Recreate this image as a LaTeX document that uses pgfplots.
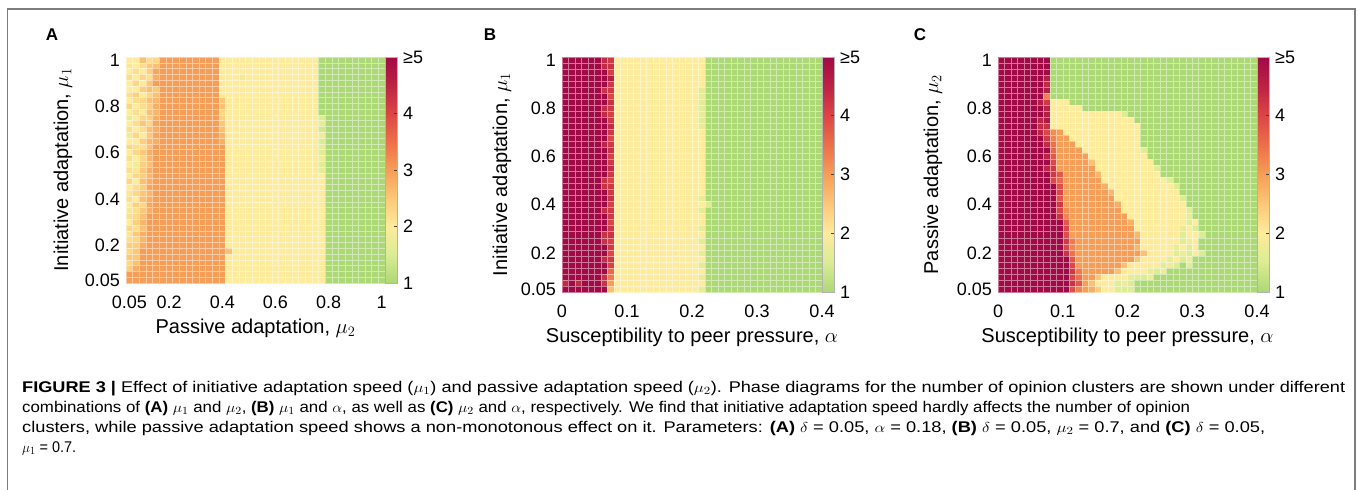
\documentclass[border=0pt]{standalone}
\usepackage{fontspec}
\setmainfont{Liberation Sans}
\usepackage{graphicx}
\usepackage{pgfplots}
\pgfplotsset{compat=1.18}
\usepackage{pgfplotstable}

\newcommand\fsz[1]{\fontsize{#1}{#1}\selectfont}
\definecolor{framec}{RGB}{125,125,125}

\pgfplotsset{colormap={clus}{rgb255=(172,216,118) rgb255=(218,236,148) rgb255=(254,235,156) rgb255=(252,200,120) rgb255=(246,158,88) rgb255=(236,112,74) rgb255=(220,70,70) rgb255=(188,35,68) rgb255=(160,10,70)}}

\pgfdeclareplotmark{cellA}{\pgfpathrectangle{\pgfpoint{-3.3205pt}{-2.8975pt}}{\pgfpoint{6.641pt}{5.795pt}}\pgfusepathqfillstroke}
\pgfdeclareplotmark{cellB}{\pgfpathrectangle{\pgfpoint{-3.25pt}{-3.013pt}}{\pgfpoint{6.5pt}{6.026pt}}\pgfusepathqfillstroke}
\pgfdeclareplotmark{cellC}{\pgfpathrectangle{\pgfpoint{-3.2375pt}{-3.013pt}}{\pgfpoint{6.475pt}{6.026pt}}\pgfusepathqfillstroke}

\pgfplotsset{
  hm/.style={
    scale only axis, enlargelimits=false,
    axis line style={draw=none}, tick style={draw=none},
    colormap name=clus, point meta min=1, point meta max=5,
    ymin=0.0375, ymax=1.0125,
    ytick={0.05,0.2,0.4,0.6,0.8,1}, yticklabels={0.05,0.2,0.4,0.6,0.8,1},
    xticklabel style={font=\fsz{18}, inner sep=0pt, yshift=-12.5pt},
    yticklabel style={font=\fsz{18}, inner sep=0pt, xshift=-6pt},
    label style={font=\fsz{20}},
    colorbar,
    colorbar style={
      at={(1,1)}, anchor=north west, xshift=19pt,
      scale only axis, width=12pt,
      axis line style={draw=black!30, line width=0.5pt},
      ytick={1,2,3,4,5}, yticklabels={1,2,3,4,≥5},
      yticklabel pos=right, ytick pos=right,
      tick align=inside, major tick length=3pt,
      tick style={draw=black!75, line width=0.5pt},
      yticklabel style={font=\fsz{18}, inner sep=0pt, xshift=6pt},
    },
  },
  cellplot/.style={scatter, only marks, point meta=explicit,
    scatter/use mapped color={draw=mapped color!55!white, fill=mapped color},
    mark options={line width=0.5pt}},
}

\newsavebox\capbox
\newcommand\capline[2]{\sbox\capbox{#2}\pgfmathsetmacro\capr{#1/\the\wd\capbox}\scalebox{\capr}[1]{\usebox\capbox}}

% Panel A: rows mu1 = 1 (top) ... 0.05 (bottom); columns mu2 = 0.05 ... 1
\pgfplotstableread[header=false]{
2 2 2.6 2.2 2.3 3 3 3 3 3  3 3 3 3 2 2 2 2 2 2  2 2 2 2 2 2 2 2 2 1  1 1 1 1 1 1 1 1 1
2.1 2 2.2 2.5 2.6 3 3 3 3 3  3 3 3 3 2 2 2 2 2 2  2 2 2 2 2 2 2 2 2 1  1 1 1 1 1 1 1 1 1
2 2.2 2 2.4 2.9 3 3 3 3 3  3 3 3 3 2 2 2 2 2 2  2 2 2 2 2 2 2 2 2 1  1 1 1 1 1 1 1 1 1
2.2 2 2.3 2.2 2.8 3 3 3 3 3  3 3 3 3 2 2 2 1.8 2 2  2 2 2 2 2 2 2 2 2 1  1 1 1 1 1 1 1 1 1
2 2.3 2 2.5 3 3 3 3 3 3  3 3 3 3 2 2 2 2 2 2  2 2 2 2 2 2 2 2 2 1  1 1 1 1 1 1 1 1 1
2 2 2.4 2.6 2.5 3 3 3 3 3  3 3 3 3 2 2 2 2 2 2  2 2 2 2 2 2 2 2 2 1  1 1 1 1 1 1 1 1 1
2.2 2.4 2 2.3 2.6 3 3 3 3 3  3 3 3 3 2 2 2 2 2 2  2 2 2 2 2 2 2 2 2 1  1 1 1 1 1 1 1 1 1
2 2.2 2.3 2.6 2.7 3 3 3 3 3  3 3 3 3 2.5 2 2 2 2 2  2 2 2 2 2 2 2 2 2 1  1 1 1 1 1 1 1 1 1
2.3 2 2.2 2.4 2.8 3 3 3 3 3  3 3 3 3 2.6 2 2 2 2 2  2 2 2 2 2 2 2 2 2 1  1 1 1 1 1 1 1 1 1
2 2.2 2 2.6 2.7 3 3 3 3 3  3 3 3 3 2.3 2 2 2 2 2  2 2 2 2 2 2 2 2 2 1  1 1 1 1 1 1 1 1 1
1.7 2 2.3 2.4 2.8 3 3 3 3 3  3 3 3 3 2.4 2 2 2 2 2  2 2 2 2 2 2 2 2 2 1.5  1 1 1 1 1 1 1 1 1
2 2.2 2.5 2.3 2.9 3 3 3 3 3  3 3 3 3 2.5 2 2 2 2 2  2 2 2 2 2 2 2 2 2 1.7  1 1 1 1 1 1 1 1 1
2.2 2 2.2 2.6 2.8 3 3 3 3 3  3 3 3 3 2.6 2 2 2 2 2  2 2 2 2 2 2 2 2 2 1.4  1 1 1 1 1 1 1 1 1
1.8 2.3 2 2.5 2.9 3 3 3 3 3  3 3 3 3 2.7 2 2 2 2 2  2 2 2 2 2 2 2 2 2 1.8  1 1 1 1 1 1 1 1 1
2 2 2.4 2.7 2.8 3 3 3 3 3  3 3 3 3 2.8 2 2 2 2 2  2 2 2 2 2 2 2 2 2 1.5  1 1 1 1 1 1 1 1 1
2.3 2.2 2.2 2.6 3 3 3 3 3 3  3 3 3 3 3 2 2 2 2 2  2 2 2 2 2 2 2 2 2 1.7  1 1 1 1 1 1 1 1 1
2 2.3 2.5 2.8 3 3 3 3 3 3  3 3 3 3 3 2 2 2 2 2  2 2 2 2 2 2 2 2 2 1.6  1 1 1 1 1 1 1 1 1
2.2 2 2.3 2.7 3 3 3 3 3 3  3 3 3 3 3 2 2 2 2 2  2 2 2 2 2 2 2 2 2 1.8  1 1 1 1 1 1 1 1 1
2 1.8 2.4 2.6 3 3 3 3 3 3  3 3 3 3 3 2 2 2 2 2  2 2 2 2 2 2 2 2 2 1.6  1 1 1 1 1 1 1 1 1
2.2 2.1 2.5 2.8 3 3 3 3 3 3  3 3 3 3 3 2 2 2 2 2  2 2 2 2 2 2 2 2 2 1.7  1 1 1 1 1 1 1 1 1
2 2.3 2.4 2.7 3 3 3 3 3 3  3 3 3 3 3 2 2 2 2 2  2 2 2 2 2 2 2 2 2 2  1 1 1 1 1 1 1 1 1
2.3 2 2.6 2.8 3 3 3 3 3 3  3 3 3 3 3 2 2 2 2 2  2 2 2 2 2 2 2 2 2 2  1 1 1 1 1 1 1 1 1
2 2.2 2.4 2.9 3 3 3 3 3 3  3 3 3 3 3 2 2 2 2 2  2 2 2 2 2 2 2 2 2 2  1 1 1 1 1 1 1 1 1
2.1 2.3 2.5 2.7 3 3 3 3 3 3  3 3 3 3 3 2 2 2 2 2  2 2 2 2 2 2 2 2 2 2  1 1 1 1 1 1 1 1 1
2.2 2 2.6 2.8 3 3 3 3 3 3  3 3 3 3 3 2 2 2 2 2  2 2 2 2 2 2 2 2 2 2  1 1 1 1 1 1 1 1 1
2 2.4 2.3 2.9 3 3 3 3 3 3  3 3 3 3 3 2 2 2 2 2  2 2 2 2 2 2 2 2 2 2  1 1 1 1 1 1 1 1 1
1.8 2.2 2.5 2.8 3 3 3 3 3 3  3 3 3 3 3 2 2 2 2 2  2 2 2 2 2 2 2 2 2 2  1 1 1 1 1 1 1 1 1
2.2 2.3 2.6 3 3 3 3 3 3 3  3 3 3 3 3 2 2 2 2 2  2 2 2 2 2 2 2 2 2 2  1 1 1 1 1 1 1 1 1
2 2.4 2.7 3 3 3 3 3 3 3  3 3 3 3 3 2 2 2 2 2  2 2 2 2 2 2 2 2 2 2  1 1 1 1 1 1 1 1 1
2.3 2.2 2.6 3 3 3 3 3 3 3  3 3 3 3 3 2 2 2 2 2  2 2 2 2 2 2 2 2 2 2  1 1 1 1 1 1 1 1 1
2.1 2.5 2.8 3 3 3 3 3 3 3  3 3 3 3 3 2 2 2 2 2  2 2 2 2 2 2 2 2 2 2  1 1 1 1 1 1 1 1 1
2.2 2.3 2.7 3 3 3 3 3 3 3  3 3 3 3 3 2 2 2 2 2  2 2 2 2 2 2 2 2 2 2  1 1 1 1 1 1 1 1 1
2.4 2.4 2.8 3 3 3 3 3 3 3  3 3 3 3 3 2 2 2 2 2  2 2 2 2 2 2 2 2 2 2  1 1 1 1 1 1 1 1 1
2.3 2.5 3 3 3 3 3 3 3 3  3 3 3 3 3 2.6 2 2 2 2  2 2 2 2 2 2 2 2 2 2  1 1 1 1 1 1 1 1 1
2.5 2.5 3 3 3 3 3 3 3 3  3 3 3 3 3 2 2 2 2 2  2 2 2 2 2 2 2 2 2 2  1 1 1 1 1 1 1 1 1
2.3 2.6 3 3 3 3 3 3 3 3  3 3 3 3 3 2 2 2 2 2  2 2 2 2 2 2 2 2 2 2  1 1 1 1 1 1 1 1 1
2.4 2.8 3 3 3 3 3 3 3 3  3 3 3 3 3 2 2 2 2 2  2 2 2 2 2 2 2 2 2 2  1 1 1 1 1 1 1 1 1
3 3 3 3 3 3 3 3 3 3  3 3 3 3 3 2 2 2 2 2  2 2 2 2 2 2 2 2 2 2  1 1 1 1 1 1 1 1 1
3 3 3 3 3 3 3 3 3 3  3 3 3 3 3 2 2 2 2 2  2 2 2 2 2 2 2 2 2 2  1 1 1 1 1 1 1 1 1
}\tabA

% Panel B: rows mu1 = 1 ... 0.05; columns alpha = 0.005 ... 0.395
\pgfplotstableread[header=false]{
5 5 5 5 5 5 4.4 4.2 2 2  2 2 2 2 2 2 2 2 2 2  2 2 1 1 1 1 1 1 1 1  1 1 1 1 1 1 1 1 1 1
5 5 5 5 5 5 4.4 4.3 2 2  2 2 2 2 2 2 2 2 2 2  2 2 1 1 1 1 1 1 1 1  1 1 1 1 1 1 1 1 1 1
5 5 5 5 5 5 5 4.1 2 2  2 2 2 2 2 2 2 2 2 2  2 2 1 1 1 1 1 1 1 1  1 1 1 1 1 1 1 1 1 1
5 5 5 5 5 5 5 4.6 2 2  2 2 2 2 2 2 2 2 2 2  2 2 1 1 1 1 1 1 1 1  1 1 1 1 1 1 1 1 1 1
5 5 5 5 5 5 5 4.2 2 2  2 2 2 2 2 2 2 2 2 2  2 2 1 1 1 1 1 1 1 1  1 1 1 1 1 1 1 1 1 1
5 5 5 5 5 5 4.3 4.2 2 2  2 2 2 2 2 2 2 2 2 2  2 1.6 1 1 1 1 1 1 1 1  1 1 1 1 1 1 1 1 1 1
5 5 5 5 5 5 5 4.0 2 2  2 2 2 2 2 2 2 2 2 2  2 1.7 1 1 1 1 1 1 1 1  1 1 1 1 1 1 1 1 1 1
5 5 5 5 5 5 5 4.3 2 2  2 2 2 2 2 2 2 2 2 2  2 1.6 1 1 1 1 1 1 1 1  1 1 1 1 1 1 1 1 1 1
5 5 5 5 5 5 4.4 4.2 2 2  2 2 2 2 2 2 2 2 2 2  2 1.6 1 1 1 1 1 1 1 1  1 1 1 1 1 1 1 1 1 1
5 5 5 5 5 5 4.4 4.1 2 2  2 2 2 2 2 2 2 2 2 2  2 1.7 1 1 1 1 1 1 1 1  1 1 1 1 1 1 1 1 1 1
5 5 5 5 5 5 5 4.2 2 2  2 2 2 2 2 2 2 2 2 2  2 1.6 1 1 1 1 1 1 1 1  1 1 1 1 1 1 1 1 1 1
5 5 5 5 5 5 5 4.4 2 2  2 2 2 2 2 2 2 2 2 2  2 1.7 1 1 1 1 1 1 1 1  1 1 1 1 1 1 1 1 1 1
5 5 5 5 5 5 5 4.2 2 2  2 2 2 2 2 2 2 2 2 2  2 2 1 1 1 1 1 1 1 1  1 1 1 1 1 1 1 1 1 1
5 5 5 5 5 5 5 4.0 2 2  2 2 2 2 2 2 2 2 2 2  2 2 1 1 1 1 1 1 1 1  1 1 1 1 1 1 1 1 1 1
5 5 5 5 5 5 4.5 4.2 2 2  2 2 2 2 2 2 2 2 2 2  2 2 1 1 1 1 1 1 1 1  1 1 1 1 1 1 1 1 1 1
5 5 5 5 5 5 5 4.3 2 2  2 2 2 2 2 2 2 2 2 2  2 2 1 1 1 1 1 1 1 1  1 1 1 1 1 1 1 1 1 1
5 5 5 5 5 5 5 4.1 2 2  2 2 2 2 2 2 2 2 2 2  2 2 1 1 1 1 1 1 1 1  1 1 1 1 1 1 1 1 1 1
5 5 5 5 5 5 5 4.2 2 2  2 2 2 2 2 2 2 2 2 2  2 2 1 1 1 1 1 1 1 1  1 1 1 1 1 1 1 1 1 1
5 5 5 5 5 5 5 4.4 2 2  2 2 2 2 2 2 2 2 2 2  2 2 1 1 1 1 1 1 1 1  1 1 1 1 1 1 1 1 1 1
5 5 5 5 5 5 5 4.2 2 2  2 2 2 2 2 2 2 2 2 2  2 2 1 1 1 1 1 1 1 1  1 1 1 1 1 1 1 1 1 1
5 5 5 5 5 5 4.3 4.0 2 2  2 2 2 2 2 2 2 2 2 2  2 2 1 1 1 1 1 1 1 1  1 1 1 1 1 1 1 1 1 1
5 5 5 5 5 5 4.3 4.2 2 2  2 2 2 2 2 2 2 2 2 2  2 2 1 1 1 1 1 1 1 1  1 1 1 1 1 1 1 1 1 1
5 5 5 5 5 5 5 4.2 2 2  2 2 2 2 2 2 2 2 2 2  2 2 1 1 1 1 1 1 1 1  1 1 1 1 1 1 1 1 1 1
5 5 5 5 5 5 5 4.3 2 2  2 2 2 2 2 2 2 2 2 2  2 1.7 1 1 1 1 1 1 1 1  1 1 1 1 1 1 1 1 1 1
5 5 5 5 5 5 5 4.1 2 2  2 2 2 2 2 2 2 2 2 2  2 2 1.5 1 1 1 1 1 1 1  1 1 1 1 1 1 1 1 1 1
5 5 5 5 5 5 4.4 4.2 2 2  2 2 2 2 2 2 2 2 2 2  2 1.7 1 1 1 1 1 1 1 1  1 1 1 1 1 1 1 1 1 1
5 5 5 5 5 5 5 4.2 2 2  2 2 2 2 2 2 2 2 2 2  2 2 1 1 1 1 1 1 1 1  1 1 1 1 1 1 1 1 1 1
5 5 5 5 5 5 5 4.0 2 2  2 2 2 2 2 2 2 2 2 2  2 2 1 1 1 1 1 1 1 1  1 1 1 1 1 1 1 1 1 1
5 5 5 5 5 5 5 4.2 2 2  2 2 2 2 2 2 2 2 2 2  2 1.7 1 1 1 1 1 1 1 1  1 1 1 1 1 1 1 1 1 1
5 5 5 5 5 5 4.3 4.3 2 2  2 2 2 2 2 2 2 2 2 2  2 2 1 1 1 1 1 1 1 1  1 1 1 1 1 1 1 1 1 1
5 5 5 5 5 5 4.3 4.1 2 2  2 2 2 2 2 2 2 2 2 2  2 1.6 1 1 1 1 1 1 1 1  1 1 1 1 1 1 1 1 1 1
5 5 5 5 5 5 5 4.2 2 2  2 2 2 2 2 2 2 2 2 2  2 2 1 1 1 1 1 1 1 1  1 1 1 1 1 1 1 1 1 1
5 5 5 5 5 5 5 4.0 2 2  2 2 2 2 2 2 2 2 2 2  2 1.7 1 1 1 1 1 1 1 1  1 1 1 1 1 1 1 1 1 1
5 5 5 5 5 5 4.4 4.2 2 2  2 2 2 2 2 2 2 2 2 2  2 2 1 1 1 1 1 1 1 1  1 1 1 1 1 1 1 1 1 1
5 5 5 5 5 5 5 4.1 2 2  2 2 2 2 2 2 2 2 2 2  2 1.6 1 1 1 1 1 1 1 1  1 1 1 1 1 1 1 1 1 1
5 5 5 5 5 5 5 3.6 2 2  2 2 2 2 2 2 2 2 2 2  2 2 1 1 1 1 1 1 1 1  1 1 1 1 1 1 1 1 1 1
5 5 5 5 5 5 4.3 3.4 2 2  2 2 2 2 2 2 2 2 2 2  2 1.7 1 1 1 1 1 1 1 1  1 1 1 1 1 1 1 1 1 1
4.4 5 4.4 5 5 5 4.3 3.0 2 2  2 2 2 2 2 2 2 2 2 2  2 2 1 1 1 1 1 1 1 1  1 1 1 1 1 1 1 1 1 1
5 5 5 5 5 5 5 2.6 2 2  2 2 2 2 2 2 2 2 2 2  2 1.7 1 1 1 1 1 1 1 1  1 1 1 1 1 1 1 1 1 1
}\tabB

% Panel C: rows mu2 = 1 ... 0.05; columns alpha = 0.005 ... 0.395
\pgfplotstableread[header=false]{
5 5 5 5 5 5 5 5 1 1  1 1 1 1 1 1 1 1 1 1  1 1 1 1 1 1 1 1 1 1  1 1 1 1 1 1 1 1 1 1
5 5 5 5 5 5 5 5 1 1  1 1 1 1 1 1 1 1 1 1  1 1 1 1 1 1 1 1 1 1  1 1 1 1 1 1 1 1 1 1
5 5 5 5 5 5 5 5 1 1  1 1 1 1 1 1 1 1 1 1  1 1 1 1 1 1 1 1 1 1  1 1 1 1 1 1 1 1 1 1
5 5 5 5 5 5 5 4.6 1 1  1 1 1 1 1 1 1 1 1 1  1 1 1 1 1 1 1 1 1 1  1 1 1 1 1 1 1 1 1 1
5 5 5 5 5 5 5 4.4 1 1  1 1 1 1 1 1 1 1 1 1  1 1 1 1 1 1 1 1 1 1  1 1 1 1 1 1 1 1 1 1
5 5 5 5 5 5 5 4.6 1 1  1 1 1 1 1 1 1 1 1 1  1 1 1 1 1 1 1 1 1 1  1 1 1 1 1 1 1 1 1 1
5 5 5 5 5 5 5 3.3 1 1  1 1 1 1 1 1 1 1 1 1  1 1 1 1 1 1 1 1 1 1  1 1 1 1 1 1 1 1 1 1
5 5 5 5 5 5 4.6 4.2 2 2  2 1 1 1 1 1 1 1 1 1  1 1 1 1 1 1 1 1 1 1  1 1 1 1 1 1 1 1 1 1
5 5 5 5 5 5 5 4.5 2 2  2 2 2 1 1 1 1 1 1 1  1 1 1 1 1 1 1 1 1 1  1 1 1 1 1 1 1 1 1 1
5 5 5 5 5 5 5 4.6 2 2  2 2 2 2 2 2 2 2 2 1.5  1 1 1 1 1 1 1 1 1 1  1 1 1 1 1 1 1 1 1 1
5 5 5 5 5 5 4.5 4.7 2 2  2 2 2 2 2 2 2 2 2 2  2 1 1 1 1 1 1 1 1 1  1 1 1 1 1 1 1 1 1 1
5 5 5 5 5 5 4.4 4.3 2 2  2 2 2 2 2 2 2 2 2 2  2 2 1 1 1 1 1 1 1 1  1 1 1 1 1 1 1 1 1 1
5 5 5 5 5 5 4.5 4.0 3.2 3.0  2 2 2 2 2 2 2 2 2 2  2 2 1 1 1 1 1 1 1 1  1 1 1 1 1 1 1 1 1 1
5 5 5 5 5 5 5 4.2 3.3 3  3 2 2 2 2 2 2 2 2 2  2 2 1 1 1 1 1 1 1 1  1 1 1 1 1 1 1 1 1 1
5 5 5 5 5 5 5 4.4 3.5 3  3 3 2 2 2 2 2 2 2 2  2 2 1 1 1 1 1 1 1 1  1 1 1 1 1 1 1 1 1 1
5 5 5 5 5 5 5 5 3.6 3  3 3 3 2 2 2 2 2 2 2  2 2 1.6 1 1 1 1 1 1 1  1 1 1 1 1 1 1 1 1 1
5 5 5 5 5 5 5 4.5 3.8 3  3 3 3 3 2 2 2 2 2 2  2 2 2 1 1 1 1 1 1 1  1 1 1 1 1 1 1 1 1 1
5 5 5 5 5 5 5 5 4.0 3  3 3 3 3 2.6 2 2 2 2 2  2 2 2 2 1 1 1 1 1 1  1 1 1 1 1 1 1 1 1 1
5 5 5 5 5 5 5 4.5 4.2 3  3 3 3 3 3 2 2 2 2 2  2 2 2 2 1.6 1 1 1 1 1  1 1 1 1 1 1 1 1 1 1
5 5 5 5 5 5 5 5 4.2 3.8  3 3 3 3 3 2.7 2 2 2 2  2 2 2 2 2 1 1 1 1 1  1 1 1 1 1 1 1 1 1 1
5 5 5 5 5 5 5 5 4.0 3.6  3 3 3 3 3 3 2 2 2 2  2 2 2 2 2 2 1.6 1 1 1  1 1 1 1 1 1 1 1 1 1
5 5 5 5 5 5 5 5 5 3.9  3 3 3 3 3 3 2.8 2 2 2  2 2 2 2 2 2 2 1.5 1 1  1 1 1 1 1 1 1 1 1 1
5 5 5 5 5 5 5 5 5 4.0  3 3 3 3 3 3 3 2.7 2 2  2 2 2 2 2 2 2 2 1 1  1 1 1 1 1 1 1 1 1 1
5 5 5 5 5 5 5 5 5 3.8  3 3 3 3 3 3 3 3 2 2  2 2 2 2 2 2 2 2 1.5 1  1 1 1 1 1 1 1 1 1 1
5 5 5 5 5 5 5 5 5 4.2  3 3 3 3 3 3 3 3 2.8 2  2 2 2 2 2 2 2 2 2 1  1 1 1 1 1 1 1 1 1 1
5 5 5 5 5 5 5 5 5 4.0  3.2 3 3 3 3 3 3 3 3 2  2 2 2 2 2 2 2 2 2 1.6  1 1 1 1 1 1 1 1 1 1
5 5 5 5 5 5 5 5 5 4.3  3.3 3 3 3 3 3 3 3 3 3  2 2 2 2 2 2 2 2 2 1.7  1 1 1 1 1 1 1 1 1 1
5 5 5 5 5 5 5 5 5 5  3.8 3 3 3 3 3 3 3 3 3  2.8 2 2 2 2 2 2 2 2 1.6  2 1 1 1 1 1 1 1 1 1
5 5 5 5 5 5 5 5 5 5  4.0 3 3 3 3 3 3 3 3 3  3 2 2 2 2 2 2 2 1.7 2  1.5 1 1 1 1 1 1 1 1 1
5 5 5 5 5 5 5 5 5 5  3.9 3 3 3 3 3 3 3 3 3  3 2.7 2 2 2 2 2 2 1.6 2  2 1.5 1 1 1 1 1 1 1 1
5 5 5 5 5 5 5 5 5 5  4.2 3.4 3 3 3 3 3 3 3 3  3 3 2 2 2 2 2 2 1.6 1.8  2 1 1 1 1 1 1 1 1 1
5 5 5 5 5 5 5 5 5 5  4.0 3.3 3 3 3 3 3 3 3 3  3 2.7 2 2 2 2 2 1.7 2 1.6  2 1 1 1 1 1 1 1 1 1
5 5 5 5 5 5 5 5 5 5  4.3 3.5 3 3 3 3 3 3 3 3  3 3 2.6 2 2 2 2 1.6 1.8 1.5  2 1.5 1 1 1 1 1 1 1 1
5 5 5 5 5 5 5 5 5 5  5 3.8 3 3 3 3 3 3 3 3  3 2.5 2 2 2 2 1.7 2 1.5 1.8  1 1 1 1 1 1 1 1 1 1
5 5 5 5 5 5 5 5 5 5  5 4.0 3 3 3 3 3 3 3 2.6  2 2 2 2 2 1.6 1.8 1.5 1 1.6  1 1 1 1 1 1 1 1 1 1
5 5 5 5 5 5 5 5 5 5  5 4.2 3.4 3 3 3 3 3 2.6 2  2 2 2 1.7 1.5 1.8 1 1 1 1  1 1 1 1 1 1 1 1 1 1
5 5 5 5 5 5 5 5 5 5  5 4.0 3.5 3 3 2.5 2 2 2 2  1.7 1.6 1.5 1.8 1 1 1 1 1 1  1 1 1 1 1 1 1 1 1 1
5 5 5 5 5 5 5 5 5 5  5 4.3 3.8 3 2.6 2 2 2 1.6 1.8  1.5 1 1 1 1 1 1 1 1 1  1 1 1 1 1 1 1 1 1 1
5 5 5 5 5 5 5 5 5 5  5 3.9 3.3 3 2.8 2.4 2 2 1.6 1.5  1.6 1 1 1 1 1 1 1 1 1  1 1 1 1 1 1 1 1 1 1
}\tabC

\begin{document}
\begin{tikzpicture}[x=1pt,y=-1pt]
\path[use as bounding box] (0,0) rectangle (1358,490);
\draw[framec, line width=1.3pt] (7.5,500) -- (7.5,9) -- (1355,9) -- (1355,500);

\node[font=\bfseries\fsz{17}] at (52,35) {A};
\node[font=\bfseries\fsz{17}] at (490,35) {B};
\node[font=\bfseries\fsz{17}] at (920,35) {C};

% ---------- A ----------
\begin{axis}[hm, at={(126pt,-283pt)}, anchor=south west,
  width=259pt, height=226pt,
  xmin=0.0375, xmax=1.0125,
  xtick={0.05,0.2,0.4,0.6,0.8,1}, xticklabels={0.05,0.2,0.4,0.6,0.8,1},
  xlabel={Passive adaptation, $\mu_2$},
  ylabel={Initiative adaptation, $\mu_1$},
  xlabel style={at={(axis description cs:0.5,-0.2)}, anchor=center},
  ylabel style={at={(axis description cs:-0.243,0.5)}, anchor=center},
]
\pgfplotsinvokeforeach{0,...,38}{
  \addplot[cellplot, mark=cellA] table[x expr={0.05+0.025*#1}, y expr={1-0.025*\coordindex}, meta index=#1] {\tabA};
}
\end{axis}

% ---------- B ----------
\begin{axis}[hm, at={(562pt,-292pt)}, anchor=south west,
  width=260pt, height=235pt,
  xmin=0, xmax=0.4,
  xtick={0,0.1,0.2,0.3,0.4}, xticklabels={0,0.1,0.2,0.3,0.4},
  xlabel={Susceptibility to peer pressure, $\alpha$},
  ylabel={Initiative adaptation, $\mu_1$},
  xlabel style={at={(axis description cs:0.5,-0.191)}, anchor=center},
  ylabel style={at={(axis description cs:-0.231,0.5)}, anchor=center},
]
\pgfplotsinvokeforeach{0,...,39}{
  \addplot[cellplot, mark=cellB] table[x expr={0.005+0.01*#1}, y expr={1-0.025*\coordindex}, meta index=#1] {\tabB};
}
\end{axis}

% ---------- C ----------
\begin{axis}[hm, at={(998pt,-292pt)}, anchor=south west,
  width=259pt, height=235pt,
  xmin=0, xmax=0.4,
  xtick={0,0.1,0.2,0.3,0.4}, xticklabels={0,0.1,0.2,0.3,0.4},
  xlabel={Susceptibility to peer pressure, $\alpha$},
  ylabel={Passive adaptation, $\mu_2$},
  xlabel style={at={(axis description cs:0.5,-0.191)}, anchor=center},
  ylabel style={at={(axis description cs:-0.251,0.5)}, anchor=center},
]
\pgfplotsinvokeforeach{0,...,39}{
  \addplot[cellplot, mark=cellC] table[x expr={0.005+0.01*#1}, y expr={1-0.025*\coordindex}, meta index=#1] {\tabC};
}
\end{axis}

% ---------- caption ----------
\node[anchor=base west, inner sep=0pt, font=\fsz{15.5}] at (22,392) {\capline{1323}{\textbf{FIGURE 3 |} Effect of initiative adaptation speed ($\mu_1$) and passive adaptation speed ($\mu_2$). Phase diagrams for the number of opinion clusters are shown under different}};
\node[anchor=base west, inner sep=0pt, font=\fsz{15.5}] at (22,412) {\capline{1168}{combinations of \textbf{(A)} $\mu_1$ and $\mu_2$, \textbf{(B)} $\mu_1$ and $\alpha$, as well as \textbf{(C)} $\mu_2$ and $\alpha$, respectively. We find that initiative adaptation speed hardly affects the number of opinion}};
\node[anchor=base west, inner sep=0pt, font=\fsz{15.5}] at (22,432) {\capline{1243}{clusters, while passive adaptation speed shows a non-monotonous effect on it. Parameters: \textbf{(A)} $\delta$ = 0.05, $\alpha$ = 0.18, \textbf{(B)} $\delta$ = 0.05, $\mu_2$ = 0.7, and \textbf{(C)} $\delta$ = 0.05,}};
\node[anchor=base west, inner sep=0pt, font=\fsz{15.5}] at (22,452) {\capline{54}{$\mu_1$ = 0.7.}};
\end{tikzpicture}
\end{document}
